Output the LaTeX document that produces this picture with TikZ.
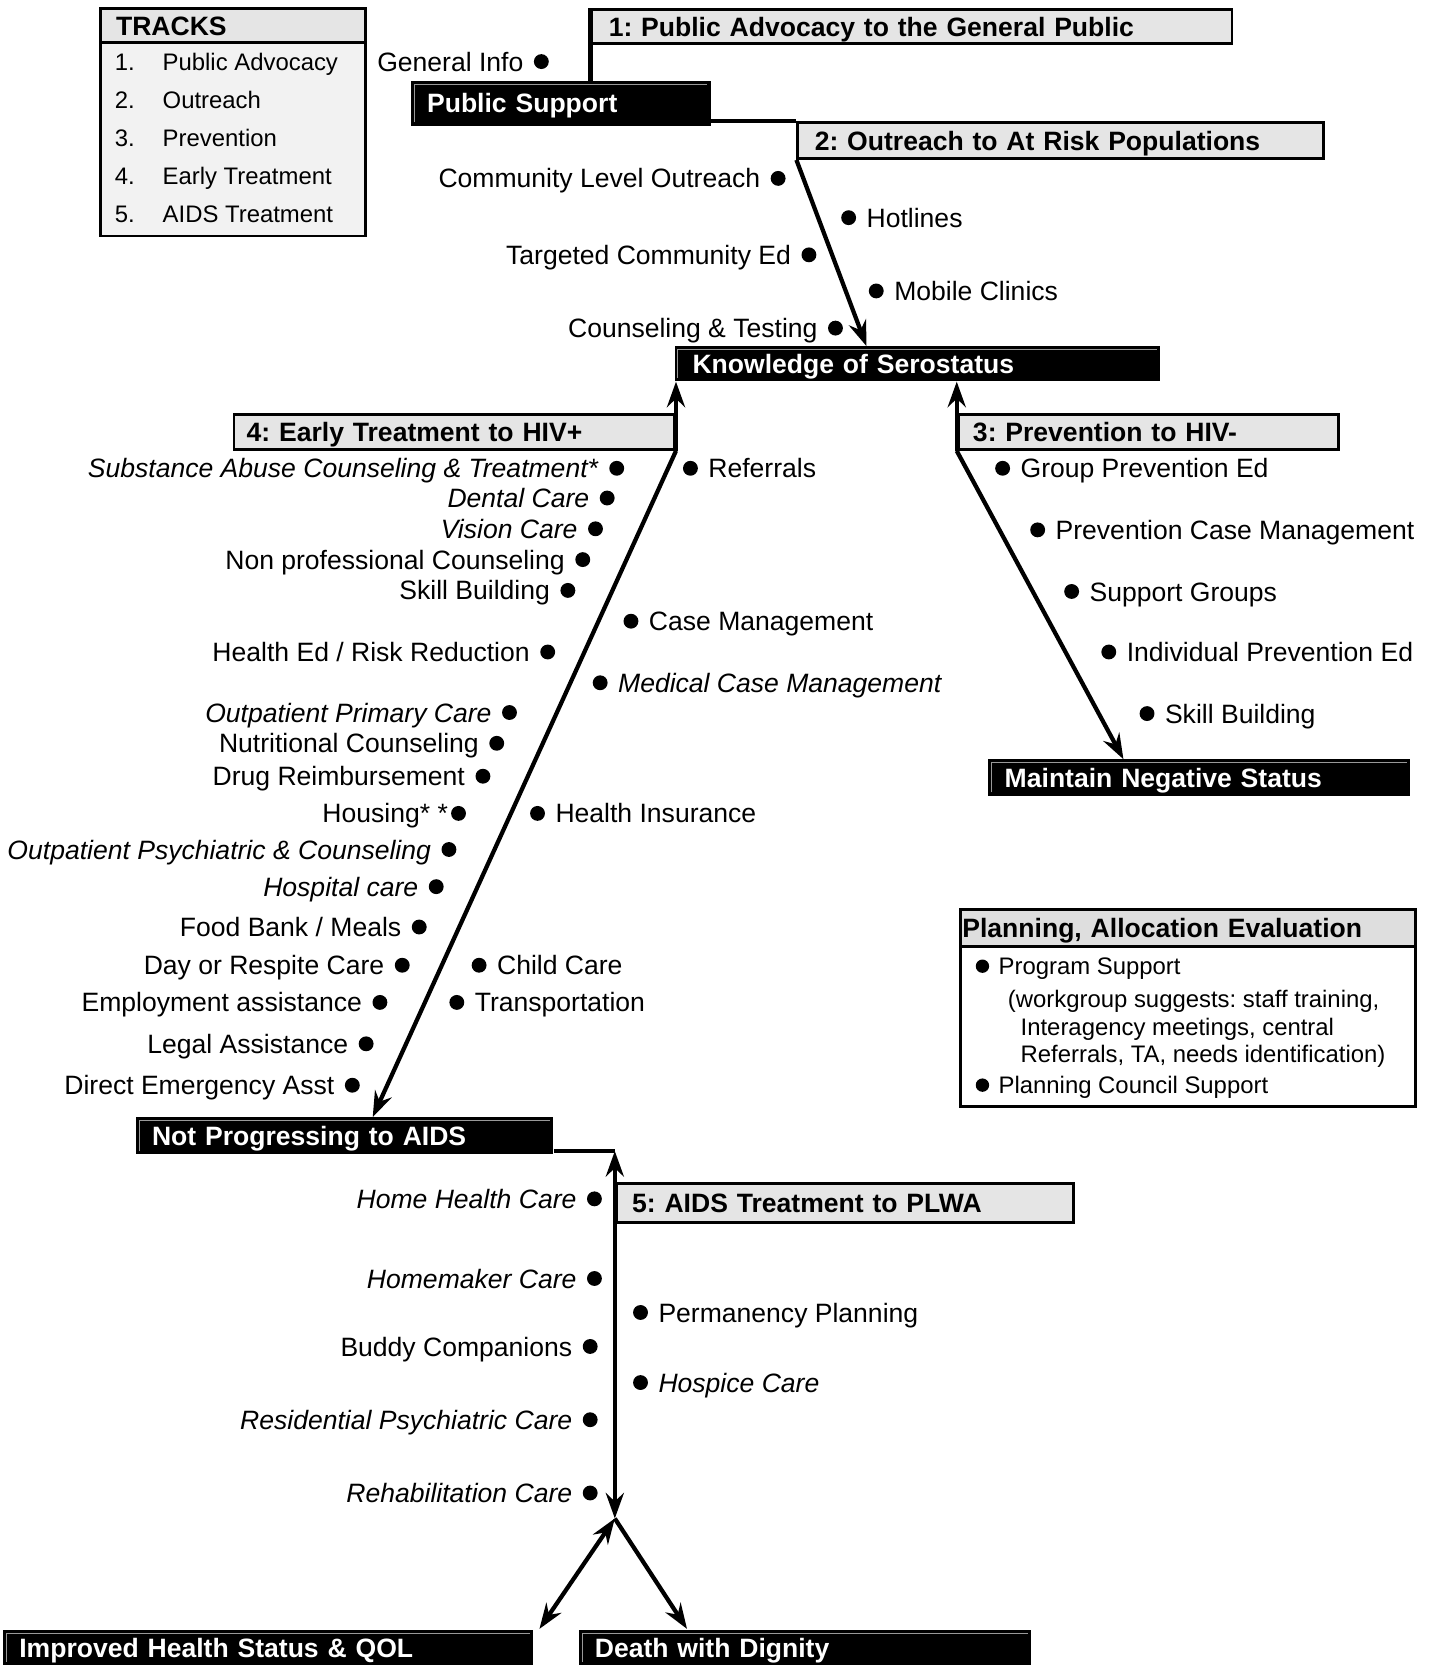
\documentclass[tikz,border=0pt]{standalone}
\usepackage{fontspec}
\setmainfont{Liberation Sans}
\usetikzlibrary{arrows.meta}
\frenchspacing
\newcommand\diagsize{\fontsize{25pt}{30pt}\selectfont}
\newcommand\legsize{\fontsize{22.5pt}{27pt}\selectfont}
\newcommand\bul{\tikz[baseline=-0.36em]{\fill (0,0) circle (0.28em); \path (-0.4em,0) (0.4em,0);}}
\definecolor{trackfill}{gray}{0.9}
\definecolor{legfill}{gray}{0.95}
\definecolor{planfill}{gray}{0.87}
\definecolor{shine}{gray}{0.6}

\begin{document}
\begin{tikzpicture}[x=1pt,y=-1pt,line cap=butt,line join=miter,
  track/.style={draw,line width=2.6pt,fill=trackfill,anchor=north west,inner ysep=0pt,align=left,
    text height=18pt,text depth=0pt,font=\bfseries\diagsize},
  goal/.style={fill=black,text=white,anchor=north west,inner ysep=0pt,align=left,
    text height=18pt,text depth=0pt,font=\bfseries\diagsize,
    path picture={\draw[shine,line width=0.8pt]
      ([shift={(3pt,3pt)}]path picture bounding box.south west) --
      ([shift={(3pt,-3pt)}]path picture bounding box.north west) --
      ([shift={(-3pt,-3pt)}]path picture bounding box.north east);}},
  lft/.style={anchor=base east,inner sep=0pt,xshift=10pt,yshift=-9pt,font=\diagsize},
  rgt/.style={anchor=base west,inner sep=0pt,xshift=-10pt,yshift=-9pt,font=\diagsize},
  legtxt/.style={anchor=base west,inner sep=0pt,font=\legsize},
  legitem/.style={legtxt,xshift=-9pt,yshift=-8pt},
  link/.style={line width=4pt},
  arr/.style={link,-{Stealth[length=24pt,width=17pt,inset=8pt]}},
  arrs/.style={link,{Stealth[length=24pt,width=17pt,inset=8pt]}-{Stealth[length=24pt,width=17pt,inset=8pt]}}]
  \useasboundingbox (0,0) rectangle (1353,1568);

  \node[track,fill=trackfill,inner xsep=15pt,text width=220pt,minimum height=32pt] (trh) at (93,7) {TRACKS};
  \node[draw,line width=2.6pt,fill=legfill,anchor=north west,minimum width=250pt,minimum height=182pt] (trb) at (93,39) {};
  \foreach \t [count=\i] in {Public Advocacy,Outreach,Prevention,Early Treatment,AIDS Treatment} {
    \node[legtxt] (trn\i) at (108,{30+36*\i}) {\i.};
    \node[legtxt] (trt\i) at (153,{30+36*\i}) {\t};
  }

  \node[track,inner xsep=16pt,text width=571pt,minimum height=32pt] (t1) at (556,8) {1: Public Advocacy to the General Public};
  \node[goal,inner xsep=15pt,text width=252pt,minimum height=42pt] (ps) at (387,76) {Public Support};
  \node[track,inner xsep=16pt,text width=463pt,minimum height=34pt] (t2) at (750,114) {2: Outreach to At Risk Populations};
  \node[goal,inner xsep=17pt,text width=423pt,minimum height=33pt] (k) at (635,326) {Knowledge of Serostatus};
  \node[track,inner xsep=12pt,text width=391pt,minimum height=33pt] (t4) at (219,389) {4: Early Treatment to HIV+};
  \node[track,inner xsep=14pt,text width=330pt,minimum height=33pt] (t3) at (901,389) {3: Prevention to HIV-};
  \node[goal,inner xsep=16pt,text width=366pt,minimum height=34pt] (mn) at (930,715) {Maintain Negative Status};
  \node[goal,inner xsep=15pt,text width=363pt,minimum height=35pt] (np) at (128,1052) {Not Progressing to AIDS};
  \node[track,inner xsep=15pt,text width=401pt,minimum height=37pt] (t5) at (579,1113) {5: AIDS Treatment to PLWA};
  \node[goal,inner xsep=15pt,text width=469pt,minimum height=33pt] (imp) at (3,1535) {Improved Health Status \& QOL};
  \node[goal,inner xsep=15pt,text width=396pt,minimum height=33pt] (dd) at (545,1535) {Death with Dignity};

  \node[track,fill=planfill,inner xsep=2pt,text width=425pt,minimum height=35pt] (pah) at (903,855) {Planning, Allocation Evaluation};
  \node[draw,line width=2.6pt,fill=white,anchor=north west,minimum width=429pt,minimum height=151pt] (pab) at (903,890) {};
  \node[legitem] (pps) at (925,910) {\bul\ Program Support};
  \node[legtxt,yshift=-8pt] (pw1) at (949,941) {(workgroup suggests: staff training,};
  \node[legtxt,yshift=-8pt] (pw2) at (961,967) {Interagency meetings, central};
  \node[legtxt,yshift=-8pt] (pw3) at (961,993) {Referrals, TA, needs identification)};
  \node[legitem] (pcs) at (925,1022) {\bul\ Planning Council Support};

  \node[lft] (gin) at (510,58) {General Info \bul};
  \node[lft] (clo) at (733,168) {Community Level Outreach \bul};
  \node[lft] (tce) at (762,240) {Targeted Community Ed \bul};
  \node[lft] (cnt) at (787,309) {Counseling \& Testing \bul};
  \node[rgt] (hot) at (799,205) {\bul\ Hotlines};
  \node[rgt] (mob) at (825,274) {\bul\ Mobile Clinics};

  \node[lft] (sac) at (581,441) {\textit{Substance Abuse Counseling \& Treatment*} \bul};
  \node[lft] (den) at (572,469) {\textit{Dental Care} \bul};
  \node[lft] (vis) at (561,498) {\textit{Vision Care} \bul};
  \node[lft] (npc) at (549,527) {Non professional Counseling \bul};
  \node[lft] (skb) at (535,556) {Skill Building \bul};
  \node[lft] (her) at (516,614) {Health Ed / Risk Reduction \bul};
  \node[lft] (opc) at (480,671) {\textit{Outpatient Primary Care} \bul};
  \node[lft] (nut) at (468,700) {Nutritional Counseling \bul};
  \node[lft] (drg) at (455,731) {Drug Reimbursement \bul};
  \node[lft] (hou) at (432,766) {Housing* *\bul};
  \node[lft] (ops) at (423,800) {\textit{Outpatient Psychiatric \& Counseling} \bul};
  \node[lft] (hsp) at (411,835) {\textit{Hospital care} \bul};
  \node[lft] (fbm) at (395,873) {Food Bank / Meals \bul};
  \node[lft] (drc) at (379,909) {Day or Respite Care \bul};
  \node[lft] (emp) at (358,944) {Employment assistance \bul};
  \node[lft] (leg) at (345,983) {Legal Assistance \bul};
  \node[lft] (dea) at (332,1022) {Direct Emergency Asst \bul};
  \node[rgt] (ref) at (650,441) {\bul\ Referrals};
  \node[rgt] (cmg) at (594,585) {\bul\ Case Management};
  \node[rgt] (mcm) at (565,643) {\bul\ \textit{Medical Case Management}};
  \node[rgt] (ins) at (506,766) {\bul\ Health Insurance};
  \node[rgt] (chc) at (451,909) {\bul\ Child Care};
  \node[rgt] (trp) at (430,944) {\bul\ Transportation};

  \node[rgt] (gpe) at (944,441) {\bul\ Group Prevention Ed};
  \node[rgt] (pcm) at (977,499) {\bul\ Prevention Case Management};
  \node[rgt] (sgr) at (1009,557) {\bul\ Support Groups};
  \node[rgt] (ipe) at (1044,614) {\bul\ Individual Prevention Ed};
  \node[rgt] (psb) at (1080,672) {\bul\ Skill Building};

  \node[lft] (hhc) at (560,1129) {\textit{Home Health Care} \bul};
  \node[lft] (hmc) at (560,1204) {\textit{Homemaker Care} \bul};
  \node[lft] (bud) at (556,1268) {Buddy Companions \bul};
  \node[lft] (rpc) at (556,1337) {\textit{Residential Psychiatric Care} \bul};
  \node[lft] (reh) at (556,1406) {\textit{Rehabilitation Care} \bul};
  \node[rgt] (ppl) at (603,1236) {\bul\ Permanency Planning};
  \node[rgt] (hos) at (603,1302) {\bul\ \textit{Hospice Care}};

  \coordinate (kin) at (816,326);
  \coordinate (mnin) at (1058,715);
  \coordinate (npin) at (351,1052);
  \coordinate (aup) at (579,1084);
  \coordinate (jn) at (579,1430);
  \coordinate (impin) at (508,1534);
  \coordinate (ddin) at (647,1534);
  \draw[link] (t1.north west) -- (t1.north west |- ps.north);
  \draw[link] (ps.east |- t2.north) -- (t2.north west);
  \draw[arr] (t2.south west) -- (kin);
  \draw[arr] (t4.south east) -- (t4.south east |- k.south);
  \draw[arr] (t4.south east) -- (npin);
  \draw[arr] (t3.south west) -- (t3.south west |- k.south);
  \draw[arr] (t3.south west) -- (mnin);
  \draw[link] (np.east |- aup) -- (aup);
  \draw[arrs] (jn) -- (aup);
  \draw[arrs] (jn) -- (impin);
  \draw[arr] (jn) -- (ddin);
\end{tikzpicture}
\end{document}
